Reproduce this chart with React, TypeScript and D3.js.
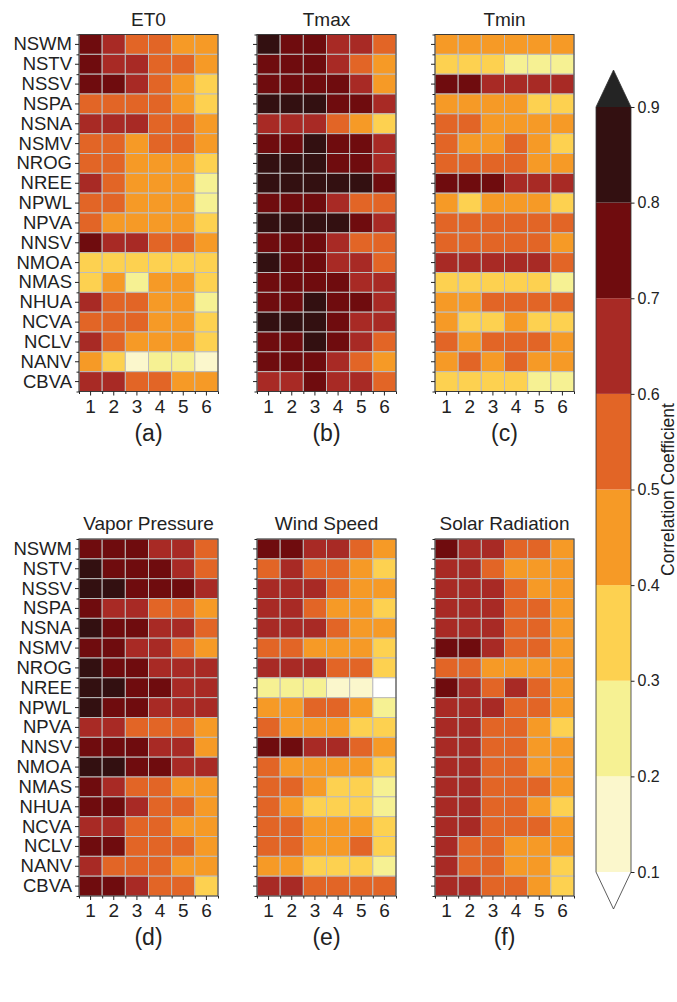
import React from 'react';
import * as d3 from 'd3';

const stations = [
  'NSWM', 'NSTV', 'NSSV', 'NSPA', 'NSNA', 'NSMV', 'NROG', 'NREE', 'NPWL',
  'NPVA', 'NNSV', 'NMOA', 'NMAS', 'NHUA', 'NCVA', 'NCLV', 'NANV', 'CBVA'
];
const months = ['1', '2', '3', '4', '5', '6'];

const et0 = [
  [0.74, 0.66, 0.56, 0.54, 0.46, 0.44],
  [0.75, 0.65, 0.62, 0.55, 0.52, 0.45],
  [0.76, 0.72, 0.64, 0.53, 0.45, 0.36],
  [0.56, 0.55, 0.54, 0.53, 0.45, 0.35],
  [0.64, 0.66, 0.62, 0.54, 0.52, 0.46],
  [0.55, 0.53, 0.47, 0.54, 0.52, 0.44],
  [0.56, 0.54, 0.46, 0.45, 0.43, 0.36],
  [0.63, 0.55, 0.46, 0.45, 0.44, 0.27],
  [0.55, 0.53, 0.46, 0.45, 0.44, 0.26],
  [0.53, 0.47, 0.46, 0.45, 0.43, 0.36],
  [0.73, 0.64, 0.63, 0.55, 0.53, 0.45],
  [0.37, 0.36, 0.35, 0.36, 0.34, 0.35],
  [0.36, 0.44, 0.28, 0.45, 0.43, 0.34],
  [0.64, 0.55, 0.53, 0.45, 0.44, 0.27],
  [0.56, 0.54, 0.53, 0.46, 0.44, 0.36],
  [0.63, 0.54, 0.46, 0.45, 0.44, 0.35],
  [0.45, 0.36, 0.17, 0.24, 0.22, 0.16],
  [0.64, 0.62, 0.55, 0.53, 0.46, 0.44]
];

const tmax = [
  [0.84, 0.75, 0.74, 0.65, 0.63, 0.55],
  [0.76, 0.74, 0.73, 0.64, 0.55, 0.45],
  [0.75, 0.74, 0.73, 0.72, 0.64, 0.46],
  [0.85, 0.84, 0.83, 0.76, 0.74, 0.65],
  [0.65, 0.64, 0.63, 0.54, 0.45, 0.36],
  [0.76, 0.75, 0.82, 0.74, 0.73, 0.64],
  [0.84, 0.83, 0.82, 0.75, 0.73, 0.64],
  [0.86, 0.85, 0.84, 0.83, 0.82, 0.76],
  [0.75, 0.74, 0.72, 0.64, 0.55, 0.53],
  [0.85, 0.84, 0.83, 0.82, 0.75, 0.64],
  [0.76, 0.74, 0.73, 0.64, 0.55, 0.54],
  [0.82, 0.75, 0.73, 0.64, 0.63, 0.54],
  [0.76, 0.75, 0.74, 0.72, 0.65, 0.64],
  [0.75, 0.74, 0.82, 0.74, 0.72, 0.64],
  [0.84, 0.83, 0.82, 0.74, 0.65, 0.64],
  [0.76, 0.75, 0.83, 0.73, 0.65, 0.55],
  [0.75, 0.74, 0.73, 0.64, 0.55, 0.46],
  [0.66, 0.65, 0.74, 0.64, 0.63, 0.55]
];

const tmin = [
  [0.46, 0.45, 0.45, 0.44, 0.45, 0.44],
  [0.35, 0.34, 0.33, 0.28, 0.27, 0.26],
  [0.74, 0.72, 0.66, 0.65, 0.64, 0.63],
  [0.46, 0.45, 0.44, 0.43, 0.37, 0.36],
  [0.55, 0.54, 0.46, 0.45, 0.45, 0.44],
  [0.53, 0.46, 0.45, 0.52, 0.44, 0.36],
  [0.55, 0.54, 0.53, 0.52, 0.46, 0.45],
  [0.75, 0.74, 0.73, 0.66, 0.65, 0.64],
  [0.45, 0.36, 0.45, 0.44, 0.43, 0.35],
  [0.55, 0.54, 0.54, 0.53, 0.53, 0.52],
  [0.56, 0.55, 0.54, 0.54, 0.53, 0.46],
  [0.65, 0.64, 0.64, 0.63, 0.62, 0.55],
  [0.37, 0.36, 0.36, 0.35, 0.34, 0.27],
  [0.45, 0.44, 0.53, 0.54, 0.53, 0.52],
  [0.44, 0.36, 0.35, 0.43, 0.35, 0.34],
  [0.53, 0.45, 0.54, 0.53, 0.52, 0.45],
  [0.46, 0.53, 0.45, 0.52, 0.44, 0.43],
  [0.36, 0.35, 0.35, 0.34, 0.28, 0.27]
];

const vaporPressure = [
  [0.75, 0.74, 0.73, 0.65, 0.64, 0.55],
  [0.82, 0.75, 0.74, 0.73, 0.64, 0.54],
  [0.84, 0.85, 0.76, 0.75, 0.73, 0.64],
  [0.74, 0.65, 0.63, 0.54, 0.53, 0.45],
  [0.83, 0.76, 0.74, 0.65, 0.63, 0.54],
  [0.75, 0.73, 0.65, 0.63, 0.54, 0.45],
  [0.83, 0.75, 0.74, 0.65, 0.64, 0.63],
  [0.84, 0.86, 0.75, 0.74, 0.65, 0.64],
  [0.83, 0.76, 0.74, 0.65, 0.64, 0.63],
  [0.65, 0.64, 0.55, 0.54, 0.53, 0.45],
  [0.76, 0.75, 0.73, 0.65, 0.63, 0.46],
  [0.84, 0.85, 0.76, 0.74, 0.65, 0.64],
  [0.74, 0.65, 0.55, 0.54, 0.46, 0.45],
  [0.75, 0.74, 0.64, 0.55, 0.53, 0.45],
  [0.65, 0.64, 0.55, 0.54, 0.46, 0.45],
  [0.75, 0.74, 0.55, 0.54, 0.53, 0.45],
  [0.64, 0.55, 0.54, 0.53, 0.46, 0.45],
  [0.76, 0.74, 0.64, 0.55, 0.53, 0.36]
];

const windSpeed = [
  [0.74, 0.73, 0.65, 0.64, 0.55, 0.45],
  [0.55, 0.64, 0.54, 0.53, 0.45, 0.35],
  [0.65, 0.64, 0.63, 0.54, 0.45, 0.44],
  [0.64, 0.63, 0.54, 0.46, 0.45, 0.36],
  [0.65, 0.64, 0.63, 0.54, 0.46, 0.44],
  [0.55, 0.54, 0.46, 0.45, 0.44, 0.35],
  [0.65, 0.64, 0.63, 0.54, 0.53, 0.36],
  [0.27, 0.26, 0.25, 0.18, 0.16, 0.07],
  [0.45, 0.44, 0.54, 0.53, 0.44, 0.27],
  [0.53, 0.46, 0.45, 0.44, 0.36, 0.35],
  [0.74, 0.75, 0.65, 0.64, 0.54, 0.45],
  [0.54, 0.46, 0.45, 0.45, 0.44, 0.36],
  [0.55, 0.53, 0.45, 0.36, 0.35, 0.28],
  [0.54, 0.45, 0.36, 0.35, 0.35, 0.27],
  [0.55, 0.54, 0.46, 0.45, 0.44, 0.36],
  [0.54, 0.53, 0.45, 0.44, 0.52, 0.35],
  [0.46, 0.45, 0.36, 0.35, 0.34, 0.27],
  [0.64, 0.63, 0.55, 0.54, 0.53, 0.52]
];

const solarRadiation = [
  [0.74, 0.65, 0.64, 0.55, 0.54, 0.45],
  [0.65, 0.64, 0.55, 0.46, 0.45, 0.44],
  [0.65, 0.64, 0.63, 0.54, 0.46, 0.45],
  [0.64, 0.65, 0.63, 0.55, 0.53, 0.45],
  [0.65, 0.64, 0.63, 0.54, 0.53, 0.45],
  [0.75, 0.74, 0.64, 0.55, 0.53, 0.45],
  [0.55, 0.54, 0.46, 0.45, 0.45, 0.44],
  [0.74, 0.64, 0.55, 0.63, 0.54, 0.45],
  [0.65, 0.64, 0.63, 0.55, 0.53, 0.45],
  [0.65, 0.64, 0.55, 0.54, 0.45, 0.36],
  [0.64, 0.63, 0.55, 0.54, 0.46, 0.45],
  [0.65, 0.64, 0.54, 0.53, 0.46, 0.45],
  [0.64, 0.63, 0.55, 0.54, 0.53, 0.45],
  [0.65, 0.64, 0.55, 0.54, 0.45, 0.36],
  [0.64, 0.63, 0.55, 0.54, 0.53, 0.45],
  [0.65, 0.55, 0.54, 0.46, 0.45, 0.44],
  [0.64, 0.55, 0.53, 0.45, 0.44, 0.36],
  [0.65, 0.63, 0.55, 0.54, 0.45, 0.35]
];

const panelTitles = ['ET0', 'Tmax', 'Tmin', 'Vapor Pressure', 'Wind Speed', 'Solar Radiation'];
const panelTags = ['(a)', '(b)', '(c)', '(d)', '(e)', '(f)'];
const panelData = [et0, tmax, tmin, vaporPressure, windSpeed, solarRadiation];

const levels = [0.1, 0.2, 0.3, 0.4, 0.5, 0.6, 0.7, 0.8, 0.9];
const levelColors = [
  '#ffffff', // under
  '#fbf7cc', '#f6f193', '#fdd150', '#f69a26',
  '#e26526', '#a82a25', '#6f0c0e', '#331011',
  '#242424' // over
];

const FONT = '"Liberation Sans", Arial, Helvetica, sans-serif';
const TEXT = '#222';

const App: React.FC = () => {
  const svgRef = React.useRef<SVGSVGElement>(null);
  const width = 677;
  const height = 1002;

  React.useEffect(() => {
    if (!svgRef.current) return;
    const svg = d3.select(svgRef.current);
    svg.selectAll('*').remove();

    const color = d3.scaleThreshold<number, string>()
      .domain(levels)
      .range(levelColors);

    const panelW = 139;
    const panelH = 357;
    const lefts = [79, 257, 435];
    const tops = [34.5, 539];

    panelData.forEach((data, p) => {
      const left = lefts[p % 3];
      const top = tops[Math.floor(p / 3)];

      const x = d3.scaleBand().domain(months).range([0, panelW]);
      const y = d3.scaleBand().domain(stations).range([0, panelH]);

      const g = svg.append('g').attr('transform', `translate(${left},${top})`);

      // cells
      data.forEach((row, i) => {
        g.selectAll(null)
          .data(row)
          .enter().append('rect')
          .attr('x', (_, j) => x(months[j]) || 0)
          .attr('y', y(stations[i]) || 0)
          .attr('width', x.bandwidth())
          .attr('height', y.bandwidth())
          .attr('fill', d => color(d))
          .attr('stroke', '#bdbdbd')
          .attr('stroke-width', 1);
      });

      // frame
      g.append('rect')
        .attr('width', panelW)
        .attr('height', panelH)
        .attr('fill', 'none')
        .attr('stroke', '#3a3a3a')
        .attr('stroke-width', 1);

      // Y axis (major at centers, minor at edges)
      const yAxis = g.append('g')
        .call(d3.axisLeft(y).tickSize(4).tickPadding(3)
          .tickFormat(p % 3 === 0 ? (d => d as string) : () => ''));
      yAxis.select('.domain').remove();
      yAxis.selectAll('text')
        .attr('font-family', FONT)
        .attr('font-size', 18.5)
        .attr('fill', TEXT);
      yAxis.selectAll('line').attr('stroke', '#222');

      const yMinor = d3.scaleLinear().domain([0, stations.length]).range([0, panelH]);
      const yMinorAxis = g.append('g')
        .call(d3.axisLeft(yMinor).tickValues(d3.range(0, stations.length + 1)).tickSize(2.5).tickFormat(() => ''));
      yMinorAxis.select('.domain').remove();
      yMinorAxis.selectAll('line').attr('stroke', '#222');

      // X axis
      const xAxis = g.append('g')
        .attr('transform', `translate(0,${panelH})`)
        .call(d3.axisBottom(x).tickSize(4).tickPadding(4));
      xAxis.select('.domain').remove();
      xAxis.selectAll('text')
        .attr('font-family', FONT)
        .attr('font-size', 19)
        .attr('fill', TEXT);
      xAxis.selectAll('line').attr('stroke', '#222');

      const xMinor = d3.scaleLinear().domain([0, months.length]).range([0, panelW]);
      const xMinorAxis = g.append('g')
        .attr('transform', `translate(0,${panelH})`)
        .call(d3.axisBottom(xMinor).tickValues(d3.range(0, months.length + 1)).tickSize(2.5).tickFormat(() => ''));
      xMinorAxis.select('.domain').remove();
      xMinorAxis.selectAll('line').attr('stroke', '#222');

      // title
      g.append('text')
        .attr('x', panelW / 2)
        .attr('y', -9)
        .attr('text-anchor', 'middle')
        .attr('font-family', FONT)
        .attr('font-size', 19)
        .attr('fill', TEXT)
        .text(panelTitles[p]);

      // tag
      g.append('text')
        .attr('x', panelW / 2)
        .attr('y', panelH + 49)
        .attr('text-anchor', 'middle')
        .attr('font-family', FONT)
        .attr('font-size', 23)
        .attr('fill', TEXT)
        .text(panelTags[p]);
    });

    // Colorbar
    const cbX = 596;
    const cbW = 35;
    const cbScale = d3.scaleLinear().domain([0.1, 0.9]).range([872, 107]);
    const cb = svg.append('g');

    d3.pairs(levels).forEach(([lo, hi]) => {
      cb.append('rect')
        .attr('x', cbX)
        .attr('y', cbScale(hi))
        .attr('width', cbW)
        .attr('height', cbScale(lo) - cbScale(hi))
        .attr('fill', color((lo + hi) / 2));
    });

    const topY = cbScale(0.9);
    const botY = cbScale(0.1);
    const triH = 37;
    cb.append('path')
      .attr('d', `M${cbX},${topY} L${cbX + cbW / 2},${topY - triH} L${cbX + cbW},${topY} Z`)
      .attr('fill', color(0.95));
    cb.append('path')
      .attr('d', `M${cbX},${botY} L${cbX + cbW / 2},${botY + triH} L${cbX + cbW},${botY} Z`)
      .attr('fill', color(0.05));

    // outline
    cb.append('path')
      .attr('d', `M${cbX},${topY} L${cbX + cbW / 2},${topY - triH} L${cbX + cbW},${topY} L${cbX + cbW},${botY} L${cbX + cbW / 2},${botY + triH} L${cbX},${botY} Z`)
      .attr('fill', 'none')
      .attr('stroke', '#333')
      .attr('stroke-width', 0.8);

    const cbAxis = cb.append('g')
      .attr('transform', `translate(${cbX + cbW},0)`)
      .call(d3.axisRight(cbScale).tickValues(levels).tickSize(3.5).tickPadding(3).tickFormat(d3.format('.1f')));
    cbAxis.select('.domain').remove();
    cbAxis.selectAll('text')
      .attr('font-family', FONT)
      .attr('font-size', 16)
      .attr('fill', TEXT);
    cbAxis.selectAll('line').attr('stroke', '#222');

    cb.append('text')
      .attr('transform', `translate(673.5,${(topY + botY) / 2}) rotate(-90)`)
      .attr('text-anchor', 'middle')
      .attr('font-family', FONT)
      .attr('font-size', 17.5)
      .attr('fill', TEXT)
      .text('Correlation Coefficient');
  }, []);

  return (
    <svg
      ref={svgRef}
      width={width}
      height={height}
      style={{ position: 'absolute', left: 0, top: 0, background: '#fff' }}
    />
  );
};

export default App;
